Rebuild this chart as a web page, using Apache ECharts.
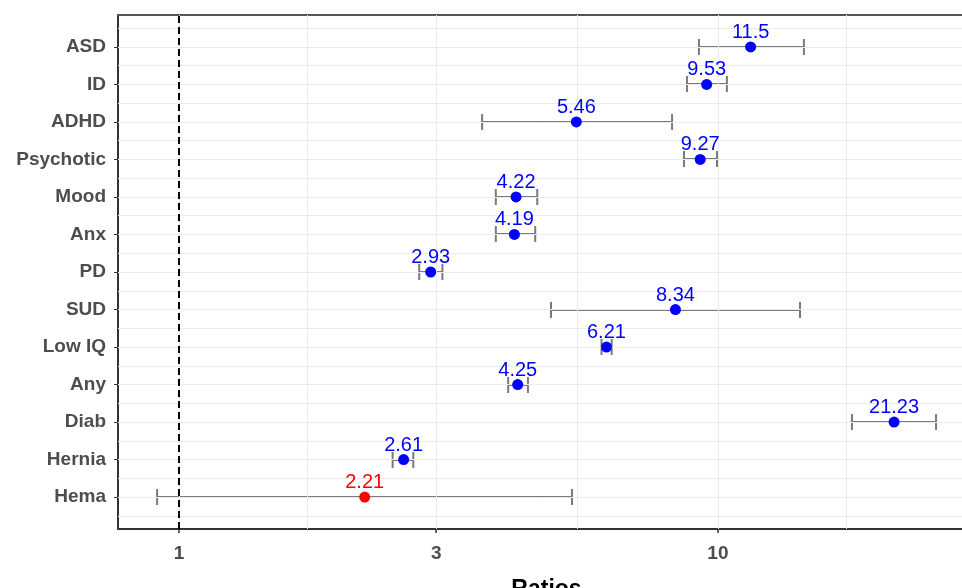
<!DOCTYPE html>
<html>
<head>
<meta charset="utf-8">
<script src="https://cdn.jsdelivr.net/npm/echarts@6/dist/echarts.min.js"></script>
<style>html,body{margin:0;padding:0;background:#fff;}#c{width:962px;height:588px;}</style>
</head>
<body>
<div id="c"></div>
<script>
const categories = ['ASD','ID','ADHD','Psychotic','Mood','Anx','PD','SUD','Low IQ','Any','Diab','Hernia','Hema'];
const ratios = [11.5, 9.53, 5.46, 9.27, 4.22, 4.19, 2.93, 8.34, 6.21, 4.25, 21.23, 2.61, 2.21];
const lower  = [9.22, 8.76, 3.65, 8.65, 3.87, 3.87, 2.79, 4.90, 6.08, 4.08, 17.73, 2.49, 0.91];
const upper  = [14.44, 10.39, 8.22, 9.96, 4.62, 4.58, 3.08, 14.2, 6.35, 4.44, 25.4, 2.72, 5.36];
const ratioLabels = ['11.5','9.53','5.46','9.27','4.22','4.19','2.93','8.34','6.21','4.25','21.23','2.61','2.21'];
const xTicks = [1, 3, 10];
const xMinorBreaks = [Math.sqrt(3), Math.sqrt(30), Math.sqrt(300)];
const refValue = 1;

const n = categories.length;
const yOf = i => n - 1 - i;
const colorOf = i => lower[i] < refValue ? '#FF0000' : '#0000FF';

const ciData = categories.map((c, i) => [lower[i], upper[i], yOf(i)]);
const ptData = categories.map((c, i) => ({
  value: [ratios[i], yOf(i)],
  itemStyle: { color: colorOf(i), opacity: 1 },
  label: { color: colorOf(i) }
}));

const gridX = [...xTicks, ...xMinorBreaks].map(v => ({ xAxis: v }));
const gridY = [];
for (let k = -0.5; k <= n - 0.5 + 1e-9; k += 0.5) gridY.push({ yAxis: k });

const font = '"Liberation Sans", Arial, sans-serif';
const chart = echarts.init(document.getElementById('c'), null, { renderer: 'canvas' });
chart.setOption({
  animation: false,
  backgroundColor: '#fff',
  grid: { left: 118, right: -13, top: 15, bottom: 59, containLabel: false, outerBoundsMode: 'none' },
  xAxis: [{
    type: 'log', logBase: 10, min: 0.77, max: 30,
    splitLine: { show: false },
    axisLine: { show: true, onZero: false, lineStyle: { color: '#333', width: 2 } },
    axisTick: { show: true, customValues: xTicks, length: 4, lineStyle: { color: '#333', width: 1.5 } },
    axisLabel: { customValues: xTicks, margin: 15, fontSize: 19, fontWeight: 'bold', color: '#4D4D4D', fontFamily: font,
      formatter: v => String(Math.round(v * 100) / 100) },
    name: 'Ratios', nameLocation: 'middle', nameGap: 49,
    nameTextStyle: { fontSize: 23, fontWeight: 'bold', color: '#000', fontFamily: font }
  }, {
    type: 'log', logBase: 10, min: 0.77, max: 30, position: 'top',
    splitLine: { show: false },
    axisLine: { show: true, onZero: false, lineStyle: { color: '#555', width: 2 } },
    axisTick: { show: false }, axisLabel: { show: false }
  }],
  yAxis: {
    type: 'value', min: -0.85, max: n - 1 + 0.85,
    splitLine: { show: false },
    axisLine: { show: true, onZero: false, lineStyle: { color: '#333', width: 2 } },
    axisTick: { show: true, customValues: categories.map((c, i) => yOf(i)), length: 4, lineStyle: { color: '#333' } },
    axisLabel: { customValues: categories.map((c, i) => yOf(i)), margin: 12, fontSize: 19, fontWeight: 'bold', color: '#4D4D4D', fontFamily: font,
      formatter: v => categories[n - 1 - Math.round(v)] }
  },
  series: [{
    type: 'line', data: [], silent: true,
    markLine: { silent: true, symbol: 'none', label: { show: false },
      lineStyle: { color: '#EBEBEB', width: 1, type: 'solid' },
      data: [...gridX, ...gridY] }
  }, {
    type: 'line', data: [], silent: true, z: 3,
    markLine: { silent: true, symbol: 'none', label: { show: false },
      lineStyle: { color: '#000', width: 2, type: [7, 4] },
      data: [{ xAxis: refValue }] }
  }, {
    type: 'custom', z: 4,
    encode: { x: [0, 1], y: 2 },
    data: ciData,
    renderItem: (params, api) => {
      const lo = api.coord([api.value(0), api.value(2)]);
      const hi = api.coord([api.value(1), api.value(2)]);
      const y = Math.round(lo[1]);
      const h = 8;
      const style = { stroke: '#7A7A7A', lineWidth: 2 };
      return { type: 'group', children: [
        { type: 'line', shape: { x1: lo[0], y1: y, x2: hi[0], y2: y }, style },
        { type: 'line', shape: { x1: lo[0], y1: y - h, x2: lo[0], y2: y + h }, style },
        { type: 'line', shape: { x1: hi[0], y1: y - h, x2: hi[0], y2: y + h }, style }
      ]};
    }
  }, {
    type: 'scatter', z: 5,
    symbol: 'circle', symbolSize: 11,
    itemStyle: { opacity: 1 },
    data: ptData,
    label: { show: true, position: 'top', distance: -1, fontSize: 20, fontFamily: font,
      formatter: p => ratioLabels[p.dataIndex] }
  }]
});
</script>
</body>
</html>
